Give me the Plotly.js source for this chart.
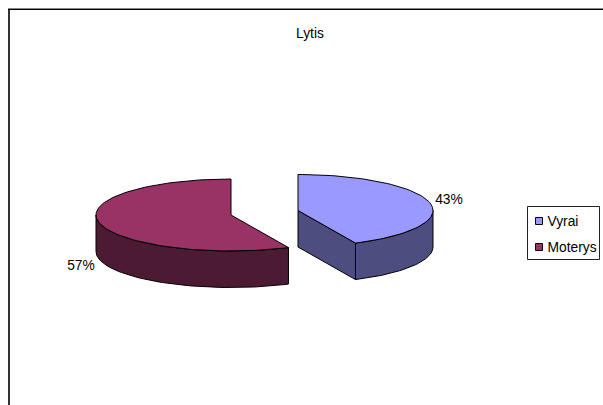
<!DOCTYPE html>
<html>
<head>
<meta charset="utf-8">
<script src="https://cdn.plot.ly/plotly-3.0.1.min.js"></script>
<style>html,body{margin:0;padding:0;background:#fff}#chart{width:603px;height:405px}</style>
</head>
<body>
<div id="chart"></div>
<script>
// Gender split shown as an extruded, exploded pie.
const categories = ['Vyrai', 'Moterys'];
const shares = [43, 57];
const topColours = ['#9999FF', '#993366'];
const sideColours = ['#4D4D80', '#4D1A33'];

// Pie projection, in the page-sized cartesian space of the plot.
const tilt = {rx: 135, ry: 36, depth: 36.5};
const centres = [{x: 298, y: 210.5}, {x: 231, y: 215}];
const labelSpots = [{x: 449, y: 201}, {x: 81, y: 267}];
const legendBox = {x0: 527.5, x1: 599.5, y0: 206.5, y1: 259.5};
const swatchRows = [221, 247];
const nameRows = [222.5, 248.5];
const FONT = 'Liberation Sans, Arial, sans-serif';
const TEXT_SIZE = 13.8;

const total = shares.reduce((a, b) => a + b, 0);
const rad = d => d * Math.PI / 180;

function rim(c, a, drop) {
  return {x: c.x + tilt.rx * Math.sin(rad(a)), y: c.y - tilt.ry * Math.cos(rad(a)) + drop};
}
function arc(c, from, to, drop) {
  const pts = [];
  const n = Math.max(2, Math.ceil(Math.abs(to - from) / 2));
  for (let i = 0; i <= n; i++) pts.push(rim(c, from + (to - from) * i / n, drop));
  return pts;
}
function poly(pts, colour) {
  const closed = pts.concat([pts[0]]);
  return {
    type: 'scatter', mode: 'lines', fill: 'toself', fillcolor: colour,
    x: closed.map(p => p.x), y: closed.map(p => p.y),
    line: {color: '#000', width: 1}, hoverinfo: 'skip', showlegend: false
  };
}

const traces = [];
const slices = [];
let start = 0;
shares.forEach((v, i) => {
  const end = start + v / total * 360;
  slices.push({i, start, end});
  start = end;
});

// Back slice first so the nearer one overlaps it.
[slices[1], slices[0]].forEach(({i, start, end}) => {
  const c = centres[i];
  // Outer wall: only the part of the rim facing the viewer.
  const a = Math.max(start, 90), b = Math.min(end, 270);
  traces.push(poly(arc(c, a, b, 0).concat(arc(c, b, a, tilt.depth)), sideColours[i]));
  // The cut face is visible only when the slice ends on the front half.
  if (end > 90 && end < 180) {
    const e0 = rim(c, end, 0), e1 = rim(c, end, tilt.depth);
    traces.push(poly([{x: c.x, y: c.y}, e0, e1, {x: c.x, y: c.y + tilt.depth}], sideColours[i]));
  }
  traces.push(poly([{x: c.x, y: c.y}].concat(arc(c, start, end, 0)), topColours[i]));
});

// Percentage labels.
traces.push({
  type: 'scatter', mode: 'text',
  x: labelSpots.map(p => p.x), y: labelSpots.map(p => p.y),
  text: shares.map(v => v + '%'), textposition: 'middle center',
  textfont: {family: FONT, size: TEXT_SIZE, color: '#000'},
  hoverinfo: 'skip', showlegend: false
});

// Key: a framed box with one swatch and one name per category.
categories.forEach((name, i) => {
  traces.push({
    type: 'scatter', mode: 'markers', x: [539], y: [swatchRows[i]],
    marker: {symbol: 'square', size: 7, color: topColours[i], line: {color: '#000', width: 1}},
    hoverinfo: 'skip', showlegend: false
  });
  traces.push({
    type: 'scatter', mode: 'text', x: [547.5], y: [nameRows[i]],
    text: [name], textposition: 'middle right',
    textfont: {family: FONT, size: TEXT_SIZE, color: '#000'},
    hoverinfo: 'skip', showlegend: false
  });
});

const layout = {
  width: 603, height: 405,
  margin: {l: 0, r: 0, t: 0, b: 0},
  paper_bgcolor: '#fff', plot_bgcolor: '#fff',
  font: {family: FONT, size: TEXT_SIZE, color: '#000'},
  title: {text: 'Lytis', x: 310 / 603, xanchor: 'center', y: 1 - 33 / 405, yanchor: 'middle',
          font: {family: FONT, size: TEXT_SIZE, color: '#000'}},
  xaxis: {range: [0, 603], visible: false, fixedrange: true},
  yaxis: {range: [405, 0], visible: false, fixedrange: true},
  showlegend: false,
  shapes: [
    {type: 'rect', xref: 'x', yref: 'y', layer: 'below', ...legendBox,
     fillcolor: '#fff', line: {color: '#222', width: 1}},
    {type: 'line', xref: 'x', yref: 'y', x0: 9, x1: 9, y0: 8, y1: 405, line: {color: '#333', width: 2}},
    {type: 'line', xref: 'x', yref: 'y', x0: 8, x1: 603, y0: 8.5, y1: 8.5, line: {color: '#888', width: 1}},
    {type: 'line', xref: 'x', yref: 'y', x0: 8, x1: 603, y0: 9.5, y1: 9.5, line: {color: '#000', width: 1}}
  ]
};

Plotly.newPlot('chart', traces, layout, {displayModeBar: false, staticPlot: true});
</script>
</body>
</html>
